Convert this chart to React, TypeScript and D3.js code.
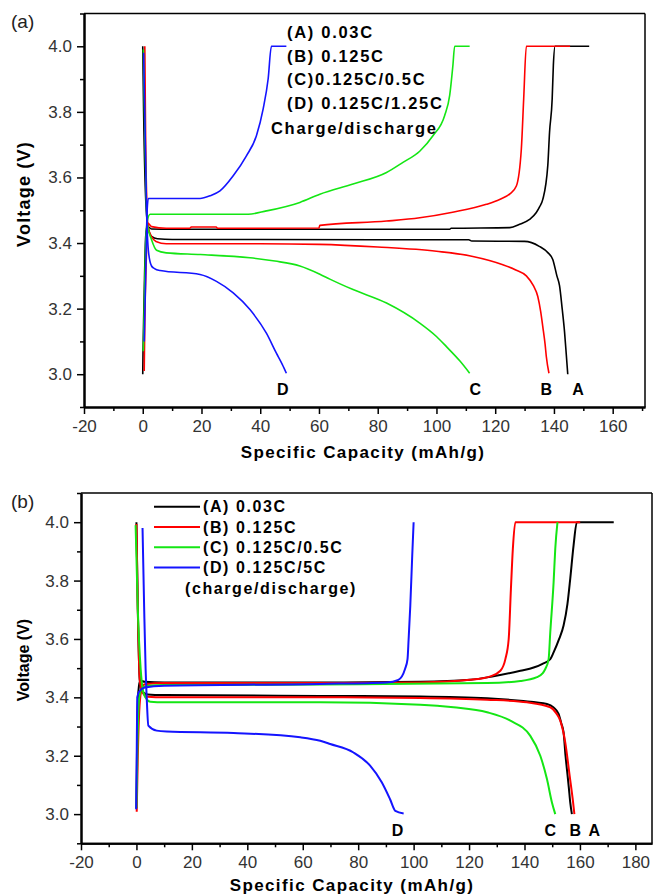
import React, { useEffect, useRef } from 'react';
import * as d3 from 'd3';

type Pt = [number, number];

// ---- panel (a) data: [capacity mAh/g, voltage V] ----
const aChargeA: Pt[] = [[0,3.0],[0.1,3.07],[0.5,3.25],[1,3.42],[1.5,3.452],[3,3.443],[10,3.442],[60,3.442],[104.5,3.442],[105,3.445],[125,3.447],[128.3,3.457],[131.7,3.472],[134,3.493],[135.1,3.51],[136.2,3.533],[137.9,3.636],[138.5,3.738],[139.4,3.84],[139.8,3.942],[140.4,4.0],[152,4.0]];
const aDischargeA: Pt[] = [[0,4.0],[0.3,3.8],[1.2,3.5],[2,3.44],[3,3.42],[5,3.413],[10,3.411],[40,3.411],[80,3.41],[111,3.41],[112,3.406],[130,3.405],[135,3.39],[138,3.37],[139.6,3.35],[141,3.3],[141.9,3.27],[142.8,3.2],[143.6,3.13],[144.2,3.06],[144.7,3.0]];
const aChargeB: Pt[] = [[0.5,3.01],[0.7,3.157],[1.2,3.35],[1.8,3.46],[3,3.45],[8,3.445],[16,3.445],[16.5,3.449],[25,3.449],[25.5,3.445],[60,3.446],[60.3,3.454],[83,3.467],[94.3,3.477],[105.5,3.494],[117,3.518],[121.5,3.533],[125,3.55],[127.2,3.574],[128.9,3.687],[129.7,3.84],[130.6,4.0],[145.5,4.0]];
const aDischargeB: Pt[] = [[0.7,4.0],[1,3.7],[1.8,3.45],[3,3.42],[4.5,3.405],[8,3.398],[40,3.398],[60,3.396],[80,3.388],[100,3.375],[112,3.36],[122.6,3.334],[127,3.318],[130.6,3.3],[133,3.27],[134.5,3.237],[135.5,3.19],[136.2,3.145],[137,3.09],[137.4,3.054],[138.3,3.003]];
const aChargeC: Pt[] = [[0.2,3.07],[0.5,3.2],[1,3.4],[1.6,3.47],[2.5,3.488],[10,3.488],[35.9,3.488],[42.1,3.498],[53.5,3.524],[60.3,3.549],[71.6,3.58],[83,3.615],[88.6,3.646],[94.3,3.68],[98.8,3.727],[102.8,3.789],[104.5,3.85],[105.6,3.942],[106.2,4.0],[111.3,4.0]];
const aDischargeC: Pt[] = [[0.2,3.99],[0.8,3.7],[1.5,3.46],[3,3.41],[4.7,3.378],[8,3.37],[19.6,3.365],[36.5,3.355],[45,3.345],[53.5,3.33],[60.3,3.305],[63.7,3.29],[71.6,3.258],[83,3.217],[94.3,3.156],[100,3.115],[103.4,3.084],[108,3.04],[111.3,3.003]];
const aChargeD: Pt[] = [[0.5,3.1],[1,3.3],[1.5,3.5],[1.9,3.536],[10,3.536],[19.5,3.536],[22.9,3.544],[26.3,3.559],[30.8,3.605],[35.3,3.666],[38.7,3.727],[41,3.809],[42.7,3.901],[43.8,4.0],[48.9,4.0]];
const aDischargeD: Pt[] = [[0.3,3.98],[0.9,3.7],[1.3,3.5],[2,3.37],[3,3.33],[4,3.322],[5.9,3.316],[19.5,3.304],[25.1,3.283],[30.8,3.248],[36.5,3.197],[42.1,3.125],[45.5,3.064],[47.5,3.03],[48.9,3.003]];

// ---- panel (b) data ----
const bChargeA: Pt[] = [[0,3.02],[0.3,3.3],[0.7,3.42],[1.3,3.457],[3,3.453],[10,3.451],[66.3,3.451],[102.4,3.453],[120.4,3.46],[128.8,3.472],[138.5,3.491],[143.3,3.502],[146.5,3.515],[149.3,3.531],[150.5,3.554],[152.5,3.6],[154.1,3.646],[155.5,3.72],[156.5,3.806],[157.7,3.92],[158.9,4.0],[172.2,4.0]];
const bDischargeA: Pt[] = [[0,4.0],[0.5,3.7],[1.2,3.46],[2,3.42],[4,3.41],[10,3.408],[66.3,3.405],[102.4,3.403],[126.5,3.397],[138.5,3.388],[148.1,3.377],[150.5,3.365],[152.3,3.343],[153.3,3.31],[154.1,3.28],[154.8,3.2],[155.3,3.154],[156,3.09],[156.5,3.04],[157.1,3.0]];
const bChargeB: Pt[] = [[0.1,3.008],[0.5,3.2],[1,3.35],[1.7,3.42],[3,3.445],[10,3.449],[66.3,3.449],[102.4,3.451],[120.4,3.46],[127.7,3.472],[131.3,3.491],[133.1,3.531],[134.3,3.6],[135.1,3.771],[135.8,3.909],[136.7,4.0],[160.1,4.0]];
const bDischargeB: Pt[] = [[0,3.994],[0.5,3.7],[1.2,3.46],[2,3.42],[4,3.402],[10,3.4],[66.3,3.4],[102.4,3.398],[126.5,3.392],[140.9,3.383],[149.3,3.366],[151.5,3.345],[152.9,3.32],[154.7,3.246],[156.3,3.131],[157.4,3.051],[158,3.0]];
const bChargeC: Pt[] = [[0,3.02],[0.4,3.25],[1,3.4],[2,3.43],[4,3.44],[10,3.442],[66.3,3.444],[126.5,3.449],[138.5,3.456],[144.5,3.469],[146.5,3.482],[147.5,3.497],[148.7,3.531],[149.3,3.623],[150.5,3.794],[151.1,3.909],[151.9,4.0]];
const bDischargeC: Pt[] = [[-0.3,3.99],[0.5,3.7],[1.5,3.5],[2.5,3.417],[4,3.39],[5,3.385],[10,3.383],[66.3,3.383],[102.4,3.375],[114.4,3.366],[126.5,3.349],[134.9,3.32],[142.1,3.268],[145.7,3.2],[148.1,3.12],[149.9,3.04],[151.1,3.0]];
const bChargeD: Pt[] = [[-0.1,3.017],[0.1,3.2],[0.3,3.401],[1,3.42],[3,3.434],[10,3.44],[66.3,3.446],[90.3,3.451],[94.5,3.46],[96.9,3.497],[97.8,3.531],[98.2,3.6],[98.8,3.714],[99.5,3.886],[100,4.0]];
const bDischargeD: Pt[] = [[2.2,3.98],[2.8,3.7],[3.3,3.5],[3.7,3.4],[4.3,3.303],[7.3,3.286],[10.9,3.283],[35,3.278],[59.1,3.263],[66.3,3.251],[69.9,3.24],[78.3,3.211],[84.3,3.166],[88.5,3.109],[91.5,3.051],[93.4,3.011],[96.4,3.002]];

// legends / annotations
const seriesKeys = ['A', 'B', 'C', 'D'];
const colors: Record<string, string> = { A: '#000000', B: '#ff0000', C: '#14e614', D: '#1414ff' };
const legendA = ['(A) 0.03C', '(B) 0.125C', '(C)0.125C/0.5C', '(D) 0.125C/1.25C'];
const legendB = ['(A) 0.03C', '(B) 0.125C', '(C) 0.125C/0.5C', '(D) 0.125C/5C'];
const endLabelsA: [string, number][] = [['D', 47.7], ['C', 113.2], ['B', 137.4], ['A', 148.2]];
const endLabelsB: [string, number][] = [['D', 94.2], ['C', 149.3], ['B', 158.3], ['A', 165.2]];

const xMajorA = d3.range(-20, 161, 20);
const xMajorB = d3.range(-20, 181, 20);
const yMajor = [3.0, 3.2, 3.4, 3.6, 3.8, 4.0];
const yMinor = [2.9, 3.1, 3.3, 3.5, 3.7, 3.9, 4.1];

const FONT = 'Arial, "Liberation Sans", sans-serif';

type PanelProps = {
  box: { left: number; right: number; top: number; bottom: number };
  xDomain: [number, number];
  curves: { key: string; data: Pt[] }[];
  xMajor: number[];
  ends: [string, number][];
  endY: number;
  strokeWidth: number;
};

function Panel({ box, xDomain, curves, xMajor, ends, endY, strokeWidth }: PanelProps) {
  const axRef = useRef<SVGGElement>(null);
  const x = d3.scaleLinear().domain(xDomain).range([box.left, box.right]);
  const y = d3.scaleLinear().domain([2.9, 4.1]).range([box.bottom, box.top]);
  const line = d3.line<Pt>().x(d => x(d[0])).y(d => y(d[1])).curve(d3.curveMonotoneX);

  useEffect(() => {
    const g = d3.select(axRef.current);
    g.selectAll('*').remove();
    const xMinor = d3.range(xDomain[0] + 10, xDomain[1], 20);

    const bx = g.append('g').attr('transform', `translate(0,${box.bottom})`);
    bx.call(d3.axisBottom(x).tickValues(xMajor).tickSize(7).tickSizeOuter(0).tickPadding(6)
      .tickFormat(d => String(d)));
    const bxm = g.append('g').attr('transform', `translate(0,${box.bottom})`);
    bxm.call(d3.axisBottom(x).tickValues(xMinor).tickSize(4).tickSizeOuter(0).tickFormat(() => ''));

    const ly = g.append('g').attr('transform', `translate(${box.left},0)`);
    ly.call(d3.axisLeft(y).tickValues(yMajor).tickSize(7).tickSizeOuter(0).tickPadding(5)
      .tickFormat(d3.format('.1f')));
    const lym = g.append('g').attr('transform', `translate(${box.left},0)`);
    lym.call(d3.axisLeft(y).tickValues(yMinor).tickSize(4).tickSizeOuter(0).tickFormat(() => ''));

    g.selectAll('path.domain').attr('stroke', '#000').attr('stroke-width', 2);
    g.selectAll('.tick line').attr('stroke', '#000').attr('stroke-width', 1.5);
    g.selectAll('.tick text').attr('font-family', FONT).attr('font-size', 17).attr('fill', '#333');
  }, []);

  return (
    <g>
      <line x1={box.left} x2={box.right} y1={box.top} y2={box.top} stroke="#000" strokeWidth={1.5} />
      <line x1={box.right} x2={box.right} y1={box.top} y2={box.bottom} stroke="#000" strokeWidth={1.5} />
      {curves.map((c, i) => (
        <path key={i} d={line(c.data) || ''} fill="none" stroke={colors[c.key]}
          strokeWidth={strokeWidth} strokeLinejoin="round" />
      ))}
      <g ref={axRef} />
      {ends.map(([t, v]) => (
        <text key={t} x={x(v)} y={y(endY)} textAnchor="middle" dominantBaseline="central"
          fontFamily={FONT} fontWeight="bold" fontSize={16}>{t}</text>
      ))}
    </g>
  );
}

export default function App() {
  const curvesA = [
    { key: 'A', data: aChargeA }, { key: 'A', data: aDischargeA },
    { key: 'B', data: aChargeB }, { key: 'B', data: aDischargeB },
    { key: 'C', data: aChargeC }, { key: 'C', data: aDischargeC },
    { key: 'D', data: aChargeD }, { key: 'D', data: aDischargeD },
  ];
  const curvesB = [
    { key: 'A', data: bChargeA }, { key: 'A', data: bDischargeA },
    { key: 'B', data: bChargeB }, { key: 'B', data: bDischargeB },
    { key: 'C', data: bChargeC }, { key: 'C', data: bDischargeC },
    { key: 'D', data: bChargeD }, { key: 'D', data: bDischargeD },
  ];
  const label = { fontFamily: FONT, fontWeight: 'bold' as const };

  return (
    <svg width={655} height={896} style={{ position: 'absolute', left: 0, top: 0, background: '#fff' }}>
      {/* panel (a) */}
      <text x={11} y={28} fontFamily={FONT} fontSize={19} fill="#222">(a)</text>
      <Panel box={{ left: 84, right: 645, top: 13.5, bottom: 407 }} xDomain={[-20, 171]}
        curves={curvesA} xMajor={xMajorA} ends={endLabelsA} endY={2.953} strokeWidth={1.6} />
      <text transform="translate(30,194) rotate(-90)" textAnchor="middle" fontSize={18} letterSpacing={1.2} {...label}>Voltage (V)</text>
      <text x={363} y={458} textAnchor="middle" fontSize={17} letterSpacing={1.4} {...label}>Specific Capacity (mAh/g)</text>
      {legendA.map((t, i) => (
        <text key={t} x={287} y={32 + i * 23.5} dominantBaseline="central" fontSize={16.5} letterSpacing={1.7} {...label}>{t}</text>
      ))}
      <text x={271} y={128} dominantBaseline="central" fontSize={16.5} letterSpacing={1.7} {...label}>Charge/discharge</text>

      {/* panel (b) */}
      <text x={11} y={508} fontFamily={FONT} fontSize={19} fill="#222">(b)</text>
      <Panel box={{ left: 81, right: 652, top: 493, bottom: 843.3 }} xDomain={[-20, 186]}
        curves={curvesB} xMajor={xMajorB} ends={endLabelsB} endY={2.943} strokeWidth={2} />
      <text transform="translate(29,660) rotate(-90)" textAnchor="middle" fontSize={16} {...label}>Voltage (V)</text>
      <text x={352} y={891} textAnchor="middle" fontSize={17} letterSpacing={1.4} {...label}>Specific Capacity (mAh/g)</text>
      {seriesKeys.map((k, i) => (
        <g key={k}>
          <line x1={154} x2={200} y1={506.7 + i * 20.3} y2={506.7 + i * 20.3} stroke={colors[k]} strokeWidth={2} />
          <text x={203} y={506.7 + i * 20.3} dominantBaseline="central" fontSize={16} letterSpacing={1.6} {...label}>{legendB[i]}</text>
        </g>
      ))}
      <text x={185} y={588} dominantBaseline="central" fontSize={16} letterSpacing={1.6} {...label}>(charge/discharge)</text>
    </svg>
  );
}
